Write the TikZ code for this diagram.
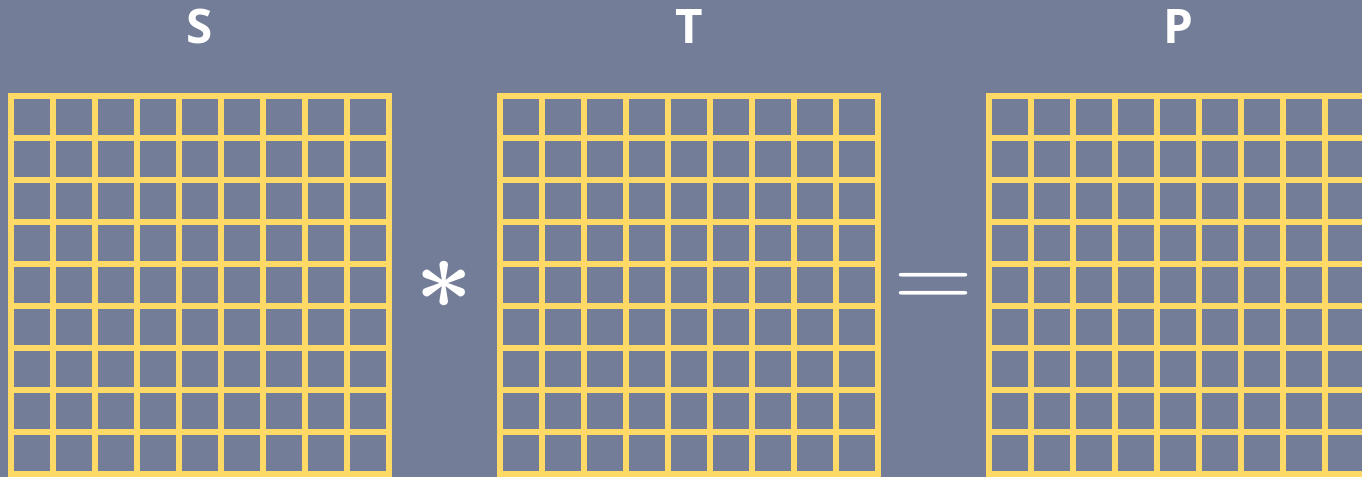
\documentclass[tikz,border=0pt]{standalone}
\usepackage{graphicx}
\usepackage{fontspec}
\newfontfamily\labfont[BoldFont={* Bold}]{Open Sans}
\definecolor{bg}{HTML}{737D97}
\definecolor{gridyellow}{HTML}{FFD966}
\tikzset{
  gridline/.style={draw=gridyellow, line width=6pt, line cap=rect},
  mlabel/.style={text=white, font=\labfont\bfseries\fontsize{47.6}{48}\selectfont, inner sep=0pt, anchor=base},
  opsym/.style={text=white, inner sep=0pt}
}
\newcommand{\matgrid}[1]{%
  \foreach \i in {0,...,9}{
    \draw[gridline] (#1+42*\i,95.7) -- (#1+42*\i,473.7);
    \draw[gridline] (#1,95.7+42*\i) -- (#1+378,95.7+42*\i);
  }}
\begin{document}
\begin{tikzpicture}[x=1pt,y=-1pt]
\useasboundingbox (0,0) rectangle (1362,477);
\fill[bg] (0,0) rectangle (1362,477);
\begin{scope}
\clip (0,0) rectangle (1362,477);
\matgrid{11}
\matgrid{500}
\matgrid{989}
\end{scope}
\node[mlabel] (labS) at (200,43.3) {S};
\node[mlabel] (labT) at (689,43.3) {T};
\node[mlabel] (labP) at (1178,43.3) {P};
\node[opsym] (times) at (444,285) {\scalebox{10}{\boldmath$\ast$}};
\node[opsym] (equals) at (933.5,290.5) {\scalebox{10.3}[9.3]{$=$}};
\end{tikzpicture}
\end{document}
